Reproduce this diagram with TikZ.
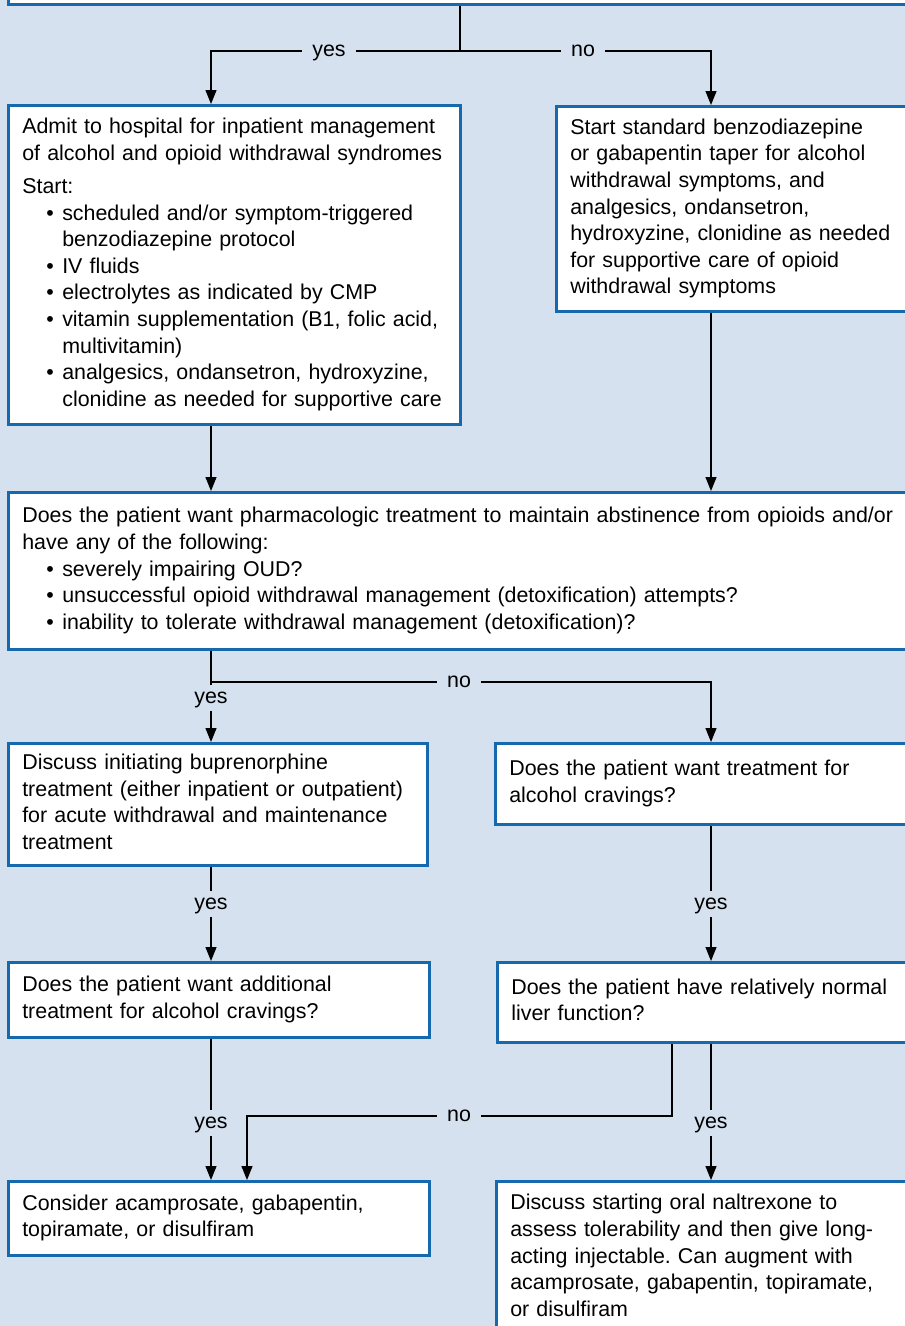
\documentclass[tikz,border=0pt]{standalone}
\usepackage{fontspec}
\setmainfont{Liberation Sans}
\usetikzlibrary{arrows.meta}
\definecolor{bgblue}{RGB}{213,225,239}
\definecolor{boxblue}{RGB}{22,105,172}
\newcommand{\bul}{\hspace*{24pt}\makebox[16pt][l]{\textbullet}}
\newcommand{\cont}{\hspace*{40pt}}
\frenchspacing
\begin{document}
\begin{tikzpicture}[x=1pt,y=-1pt,
  box/.style={draw=boxblue, line width=2.6pt, fill=white, inner xsep=14pt, inner ysep=0pt,
    align=left, anchor=north west, font=\fontsize{21.4}{26.6}\selectfont,
    execute at begin node=\strut, execute at end node=\strut},
  lbl/.style={fill=bgblue, inner xsep=10pt, inner ysep=7.5pt, text height=11pt, text depth=0pt,
    font=\fontsize{21.4}{26.6}\selectfont},
  conn/.style={line width=1.2pt, draw=black},
  arr/.style={conn, -{Triangle[length=14pt,width=11pt]}}]
\useasboundingbox (0,0) rectangle (905,1326);
\fill[bgblue] (0,0) rectangle (905,1326);

% column coordinates
\coordinate (cL) at (211,0);
\coordinate (cR) at (711,0);
\coordinate (cM) at (247,0);
\coordinate (cN) at (672,0);
\coordinate (j0) at (460,51);
\coordinate (j1) at (211,682);

% boxes
\node[box, text width=915pt, minimum height=60pt, anchor=south west] (top) at (7,6) {};
\node[box, text width=424pt, minimum height=319pt] (admit) at (7,104) {Admit to hospital for inpatient management\\
of alcohol and opioid withdrawal syndromes\\[6.5pt]
Start:\\
\bul scheduled and/or symptom-triggered\\
\cont benzodiazepine protocol\\
\bul IV fluids\\
\bul electrolytes as indicated by CMP\\
\bul vitamin supplementation (B1, folic acid,\\
\cont multivitamin)\\
\bul analgesics, ondansetron, hydroxyzine,\\
\cont clonidine as needed for supportive care};
\node[box, text width=323pt, minimum height=205pt] (start) at (555,105) {Start standard benzodiazepine\\
or gabapentin taper for alcohol\\
withdrawal symptoms, and\\
analgesics, ondansetron,\\
hydroxyzine, clonidine as needed\\
for supportive care of opioid\\
withdrawal symptoms};
\node[box, text width=871pt, minimum height=157pt] (mid) at (7,491) {Does the patient want pharmacologic treatment to maintain abstinence from opioids and/or\\
have any of the following:\\
\bul severely impairing OUD?\\
\bul unsuccessful opioid withdrawal management (detoxification) attempts?\\
\bul inability to tolerate withdrawal management (detoxification)?};
\node[box, text width=391pt, minimum height=122pt] (disc) at (7,742) {Discuss initiating buprenorphine\\
treatment (either inpatient or outpatient)\\
for acute withdrawal and maintenance\\
treatment};
\node[box, text width=384pt, minimum height=81pt] (treat) at (494,742) {Does the patient want treatment for\\
alcohol cravings?};
\node[box, text width=393pt, minimum height=75pt] (add) at (7,961) {Does the patient want additional\\
treatment for alcohol cravings?};
\node[box, text width=382pt, minimum height=80pt] (liver) at (496,961) {Does the patient have relatively normal\\
liver function?};
\node[box, text width=393pt, minimum height=74pt] (cons) at (7,1180) {Consider acamprosate, gabapentin,\\
topiramate, or disulfiram};
\node[box, text width=383pt, minimum height=153pt] (nal) at (495,1180) {Discuss starting oral naltrexone to\\
assess tolerability and then give long-\\
acting injectable. Can augment with\\
acamprosate, gabapentin, topiramate,\\
or disulfiram};

% labels
\node[lbl] (yesA) at (329,51) {yes};
\node[lbl] (noA) at (583,51) {no};
\node[lbl] (yesB) at (211,698) {yes};
\node[lbl] (noB) at (459,682) {no};
\node[lbl] (yesC) at (211,904) {yes};
\node[lbl] (yesD) at (711,904) {yes};
\node[lbl] (yesE) at (211,1123) {yes};
\node[lbl] (yesF) at (711,1123) {yes};
\node[lbl] (noC) at (459,1116) {no};

% connectors
\draw[conn] (top.south -| j0) -- (j0);
\draw[conn] (j0) -- (yesA);
\draw[arr] (yesA) -| (admit.north -| cL);
\draw[conn] (j0) -- (noA);
\draw[arr] (noA) -| (start.north -| cR);

\draw[arr] (admit.south -| cL) -- (mid.north -| cL);
\draw[arr] (start.south -| cR) -- (mid.north -| cR);

\draw[conn] (mid.south -| cL) -- (yesB);
\draw[arr] (yesB) -- (disc.north -| cL);
\draw[conn] (j1) -- (noB);
\draw[arr] (noB) -| (treat.north -| cR);

\draw[conn] (disc.south -| cL) -- (yesC);
\draw[arr] (yesC) -- (add.north -| cL);
\draw[conn] (treat.south -| cR) -- (yesD);
\draw[arr] (yesD) -- (liver.north -| cR);

\draw[conn] (add.south -| cL) -- (yesE);
\draw[arr] (yesE) -- (cons.north -| cL);
\draw[conn] (liver.south -| cR) -- (yesF);
\draw[arr] (yesF) -- (nal.north -| cR);
\draw[conn] (liver.south -| cN) |- (noC);
\draw[arr] (noC) -| (cons.north -| cM);
\end{tikzpicture}
\end{document}
